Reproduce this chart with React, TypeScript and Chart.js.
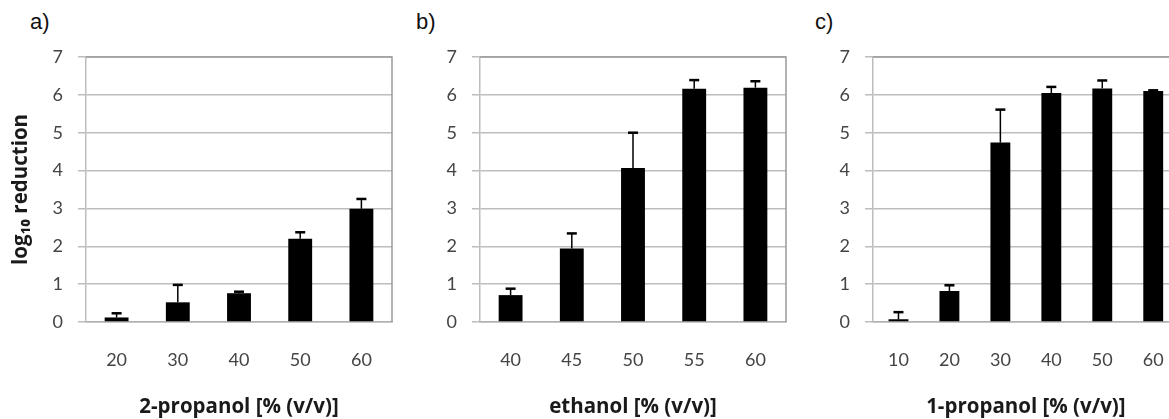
import React, { useEffect, useRef } from "react";
import { Chart, registerables } from "chart.js";

Chart.register(...registerables);

const catsA = ["20", "30", "40", "50", "60"];
const valsA = [0.12, 0.52, 0.76, 2.2, 2.99];
const errA = [0.11, 0.46, 0.04, 0.17, 0.26];

const catsB = ["40", "45", "50", "55", "60"];
const valsB = [0.71, 1.94, 4.07, 6.16, 6.19];
const errB = [0.17, 0.4, 0.93, 0.23, 0.17];

const catsC = ["10", "20", "30", "40", "50", "60"];
const valsC = [0.07, 0.82, 4.74, 6.05, 6.17, 6.1];
const errC = [0.19, 0.15, 0.87, 0.16, 0.21, 0.02];

const yMin = 0;
const yMax = 7;

const errorBarPlugin = {
  id: "errorBars",
  afterDatasetsDraw(chart: any, _args: any, opts: any) {
    const errs: number[] = opts.errors || [];
    const meta = chart.getDatasetMeta(0);
    const ys = chart.scales.y;
    const vals = chart.data.datasets[0].data as number[];
    const ctx = chart.ctx;
    ctx.save();
    ctx.strokeStyle = "#000";
    meta.data.forEach((el: any, i: number) => {
      const top = ys.getPixelForValue(vals[i] + errs[i]);
      ctx.lineWidth = 1.5;
      ctx.beginPath();
      ctx.moveTo(el.x, el.y);
      ctx.lineTo(el.x, top);
      ctx.stroke();
      ctx.lineWidth = 2.5;
      ctx.beginPath();
      ctx.moveTo(el.x - 5, top);
      ctx.lineTo(el.x + 5, top);
      ctx.stroke();
    });
    ctx.restore();
  },
};

const framePlugin = {
  id: "frame",
  beforeDatasetsDraw(chart: any) {
    const { left, right, top, bottom } = chart.chartArea;
    const ctx = chart.ctx;
    ctx.save();
    ctx.strokeStyle = "#9a9a9a";
    ctx.lineWidth = 1.5;
    ctx.beginPath();
    ctx.moveTo(left, top);
    ctx.lineTo(right, top);
    ctx.lineTo(right, bottom);
    ctx.stroke();
    ctx.restore();
  },
};

type PanelProps = {
  cats: string[];
  vals: number[];
  errs: number[];
  xTitle: string;
  yTitle?: string;
  left: number;
  width: number;
  label: string;
  labelLeft: number;
};

const tickFont = { family: "Lato", size: 18 };
const titleFont = { family: "'Open Sans'", size: 20.5, weight: "bold" as const };

function Panel({ cats, vals, errs, xTitle, yTitle, left, width, label, labelLeft }: PanelProps) {
  const ref = useRef<HTMLCanvasElement | null>(null);
  useEffect(() => {
    if (!ref.current) return;
    const chart = new Chart(ref.current, {
      type: "bar",
      data: {
        labels: cats,
        datasets: [
          {
            data: vals,
            backgroundColor: "#000",
            borderWidth: 0,
            barPercentage: 0.39,
            categoryPercentage: 1,
          },
        ],
      },
      options: {
        animation: false,
        responsive: false,
        layout: { padding: { top: 57, right: width - 392, bottom: 0, left: 0 } },
        plugins: {
          legend: { display: false },
          tooltip: { enabled: false },
          title: { display: false },
          errorBars: { errors: errs },
        } as any,
        scales: {
          x: {
            grid: { display: false },
            border: { display: true, color: "#b0b0b0", width: 1.5 },
            ticks: {
              color: "#444",
              font: tickFont,
              padding: 19,
              maxRotation: 0,
            },
            title: {
              display: true,
              text: xTitle,
              color: "#1a1a1a",
              font: titleFont,
              padding: { top: 0, bottom: 0 },
            },
            afterFit(scale: any) {
              scale.height = 97;
            },
          },
          y: {
            min: yMin,
            max: yMax,
            ticks: {
              stepSize: 1,
              color: "#444",
              font: tickFont,
              padding: 15,
            },
            grid: { color: "#bdbdbd", lineWidth: 1.5, tickLength: 8 },
            border: { display: true, color: "#bdbdbd", width: 1.5 },
            title: {
              display: !!yTitle,
              text: yTitle || "",
              color: "#1a1a1a",
              font: titleFont,
              padding: { top: 9, bottom: 0 },
            },
            afterFit(scale: any) {
              scale.width = 86;
            },
          },
        },
      },
      plugins: [framePlugin, errorBarPlugin],
    });
    return () => chart.destroy();
  }, []);
  return (
    <>
      <div
        style={{
          position: "absolute",
          left: labelLeft,
          top: 11,
          fontFamily: "'Liberation Sans', Arial, sans-serif",
          fontSize: 22,
          lineHeight: 1,
          color: "#111",
        }}
      >
        {label}
      </div>
      <canvas
        ref={ref}
        width={width}
        height={419}
        style={{ position: "absolute", left, top: 0, width, height: 419 }}
      />
    </>
  );
}

export default function App() {
  return (
    <div
      style={{
        position: "fixed",
        left: 0,
        top: 0,
        width: 1169,
        height: 419,
        overflow: "hidden",
        background: "#fff",
      }}
    >
      <Panel cats={catsA} vals={valsA} errs={errA} xTitle="2-propanol [% (v/v)]" yTitle="log₁₀ reduction" left={0} width={394} label="a)" labelLeft={30} />
      <Panel cats={catsB} vals={valsB} errs={errB} xTitle="ethanol [% (v/v)]" left={394} width={394} label="b)" labelLeft={416} />
      <Panel cats={catsC} vals={valsC} errs={errC} xTitle="1-propanol [% (v/v)]" left={787} width={396} label="c)" labelLeft={815} />
    </div>
  );
}
